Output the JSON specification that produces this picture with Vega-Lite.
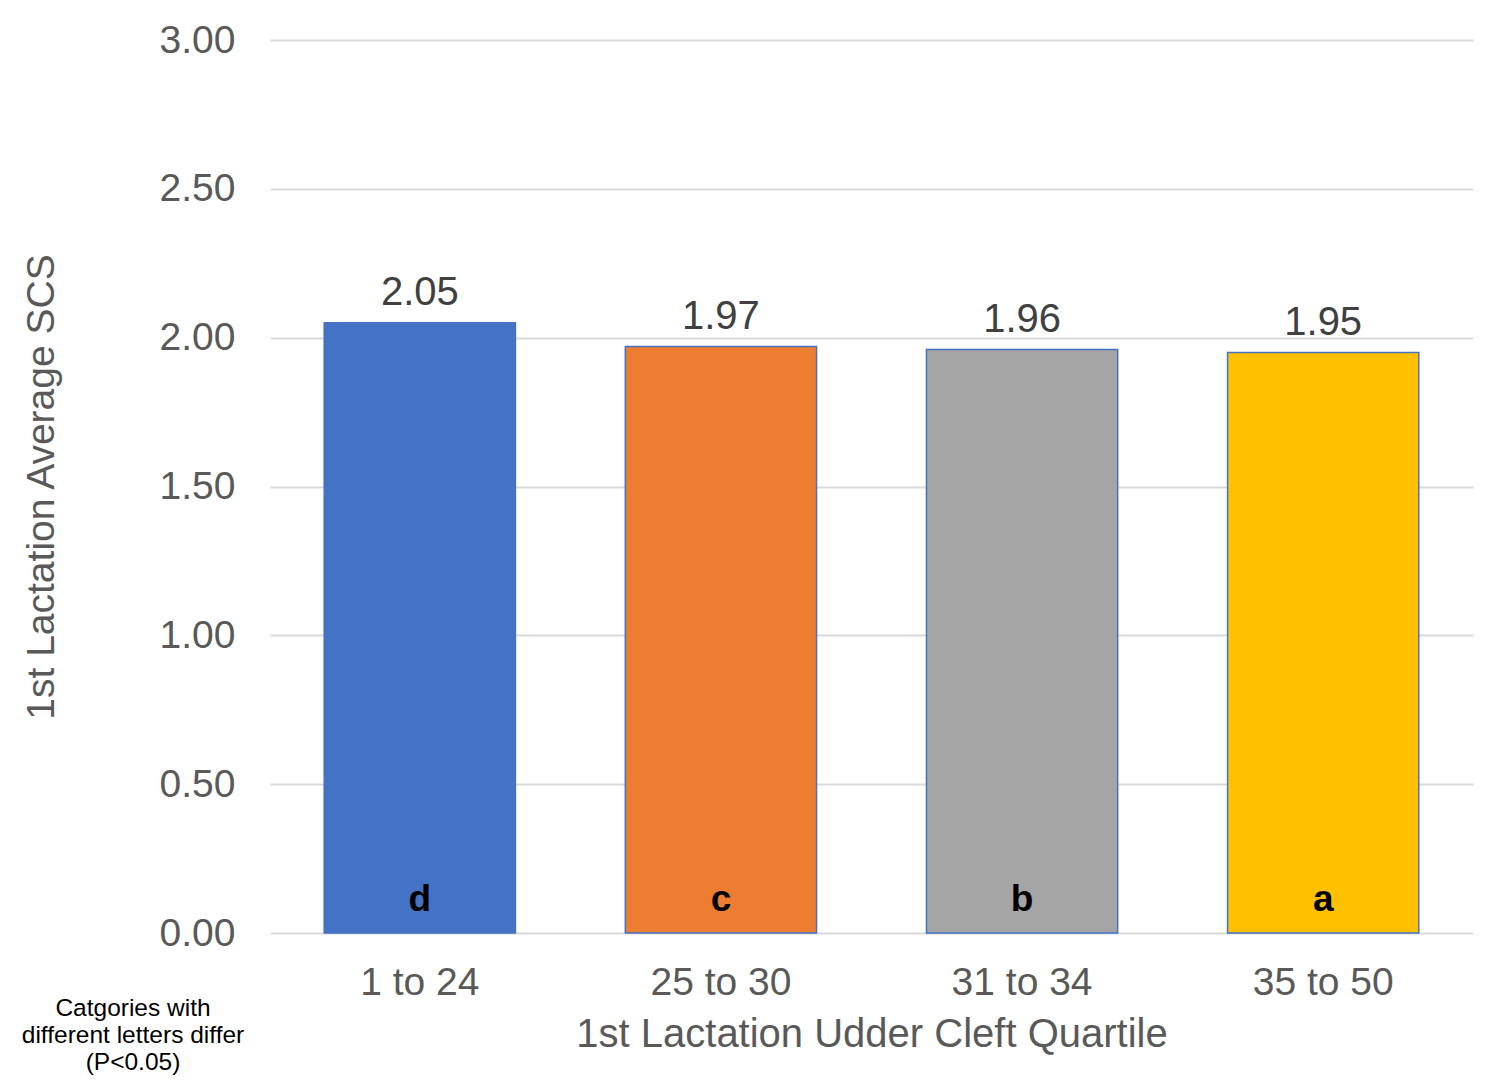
{
  "$schema": "https://vega.github.io/schema/vega-lite/v6.json",
  "width": 1203,
  "height": 893,
  "autosize": "none",
  "padding": {"left": 270, "top": 40, "right": 26, "bottom": 158},
  "background": "white",
  "config": {
    "font": "Liberation Sans",
    "view": {"stroke": null}
  },
  "title": {
    "text": ["Catgories with", "different letters differ", "(P<0.05)"],
    "orient": "bottom",
    "anchor": "start",
    "frame": "group",
    "align": "center",
    "dx": -137,
    "dy": -61,
    "fontSize": 24.5,
    "fontWeight": "normal",
    "color": "#000000",
    "lineHeight": 27,
    "font": "Liberation Sans"
  },
  "data": {
    "values": [
      {"quartile": "1 to 24", "scs": 2.05, "label": "2.05", "letter": "d", "color": "#4472C4"},
      {"quartile": "25 to 30", "scs": 1.97, "label": "1.97", "letter": "c", "color": "#ED7D31"},
      {"quartile": "31 to 34", "scs": 1.96, "label": "1.96", "letter": "b", "color": "#A5A5A5"},
      {"quartile": "35 to 50", "scs": 1.95, "label": "1.95", "letter": "a", "color": "#FFC000"}
    ]
  },
  "encoding": {
    "x": {
      "field": "quartile",
      "type": "nominal",
      "sort": null,
      "scale": {"paddingInner": 0.365, "paddingOuter": 0.18},
      "axis": {
        "title": "1st Lactation Udder Cleft Quartile",
        "titleFontSize": 40,
        "titleFontWeight": "normal",
        "titleColor": "#595959",
        "titlePadding": 12,
        "labelFontSize": 39,
        "labelColor": "#595959",
        "labelAngle": 0,
        "labelPadding": 30,
        "domain": false,
        "ticks": false
      }
    }
  },
  "layer": [
    {
      "mark": {"type": "bar", "stroke": "#4472C4", "strokeWidth": 1.5},
      "encoding": {
        "y": {
          "field": "scs",
          "type": "quantitative",
          "scale": {"domain": [0, 3]},
          "axis": {
            "title": "1st Lactation Average SCS",
            "titleFontSize": 39,
            "titleFontWeight": "normal",
            "titleColor": "#595959",
            "titlePadding": 98,
            "labelFontSize": 39,
            "labelColor": "#595959",
            "labelPadding": 35,
            "format": ".2f",
            "values": [0, 0.5, 1, 1.5, 2, 2.5, 3],
            "domain": false,
            "ticks": false,
            "grid": true,
            "gridColor": "#D9D9D9",
            "gridWidth": 2
          }
        },
        "color": {"field": "color", "type": "nominal", "scale": null}
      }
    },
    {
      "mark": {"type": "text", "baseline": "bottom", "dy": -10, "fontSize": 40, "color": "#404040"},
      "encoding": {
        "y": {"field": "scs", "type": "quantitative"},
        "text": {"field": "label"}
      }
    },
    {
      "mark": {"type": "text", "baseline": "middle", "dy": -33, "fontSize": 37, "fontWeight": "bold", "color": "#000000"},
      "encoding": {
        "y": {"datum": 0, "type": "quantitative"},
        "text": {"field": "letter"}
      }
    }
  ]
}
